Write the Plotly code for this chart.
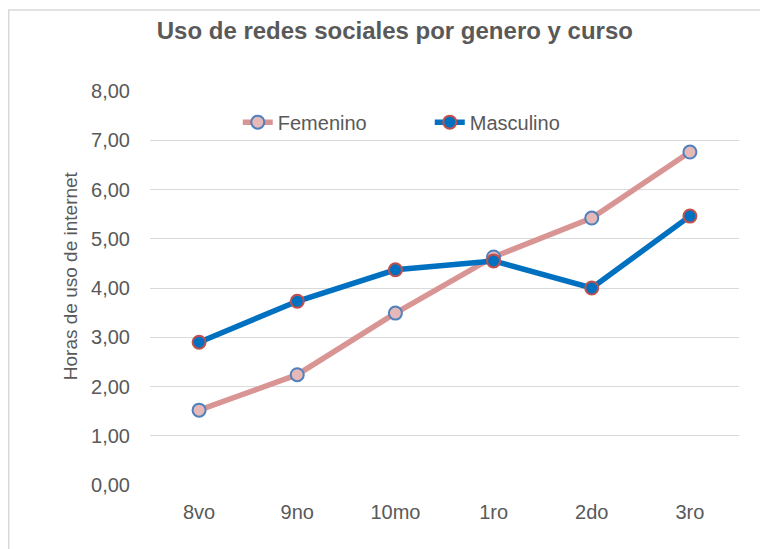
import plotly.graph_objects as go

cursos = ["8vo", "9no", "10mo", "1ro", "2do", "3ro"]
femenino = [1.52, 2.24, 3.49, 4.63, 5.42, 6.76]
masculino = [2.90, 3.73, 4.37, 4.55, 4.00, 5.46]
y_ticks = [0, 1, 2, 3, 4, 5, 6, 7, 8]
y_tick_labels = ["0,00", "1,00", "2,00", "3,00", "4,00", "5,00", "6,00", "7,00", "8,00"]

FONT = "Liberation Sans, Arial, sans-serif"
GRAY = "#595959"

fig = go.Figure()
fig.add_trace(go.Scatter(
    x=cursos, y=femenino, name="Femenino", mode="lines+markers",
    line=dict(color="#D99594", width=5.5),
    marker=dict(size=13, color="#E6B9B8", line=dict(color="#4F81BD", width=2)),
))
fig.add_trace(go.Scatter(
    x=cursos, y=masculino, name="Masculino", mode="lines+markers",
    line=dict(color="#0070C0", width=5.5),
    marker=dict(size=13, color="#0070C0", line=dict(color="#C0504D", width=2)),
))

fig.update_layout(
    width=760, height=541,
    margin=dict(l=142, r=29, t=83, b=64),
    paper_bgcolor="white", plot_bgcolor="white",
    font=dict(family=FONT, color=GRAY, size=20),
    title=dict(text="<b>Uso de redes sociales por genero y curso</b>",
               x=0.509, xanchor="center", y=0.959, yanchor="middle",
               font=dict(size=24, color=GRAY, family=FONT)),
    showlegend=True,
    legend=dict(orientation="h", x=0.149, xanchor="left", y=0.921, yanchor="middle",
                font=dict(size=20, color=GRAY), bgcolor="rgba(0,0,0,0)",
                entrywidth=147, entrywidthmode="pixels"),
    xaxis=dict(range=[-0.5, 5.5], showgrid=False, showline=False, zeroline=False, ticks="",
               tickfont=dict(size=20, color=GRAY), ticklabelstandoff=13),
    yaxis=dict(range=[0, 8], tickvals=y_ticks, ticktext=y_tick_labels,
               showgrid=True, gridcolor="#D9D9D9", gridwidth=1.3,
               zeroline=False, showline=False, ticks="",
               tickfont=dict(size=20, color=GRAY), ticklabelstandoff=19),
    annotations=[dict(text="Horas de uso de internet", xref="paper", yref="paper",
                      x=-0.1358, y=0.530, xanchor="center", yanchor="middle",
                      textangle=-90, showarrow=False,
                      font=dict(size=19, color=GRAY, family=FONT))],
    shapes=[dict(type="rect", xref="paper", yref="paper",
                 x0=-0.2398, x1=1.5, y0=-0.5, y1=1.2056,
                 line=dict(color="#D9D9D9", width=1.5), fillcolor="rgba(0,0,0,0)",
                 layer="below")],
)

fig.write_html("out.html")
